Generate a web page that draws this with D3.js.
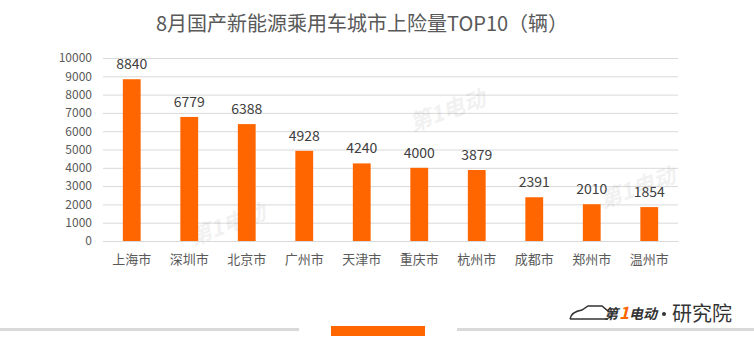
<!DOCTYPE html>
<html><head><meta charset="utf-8">
<script src="https://cdn.jsdelivr.net/npm/d3@7/dist/d3.min.js"></script>
<style>body{margin:0;background:#fff;}svg{display:block;font-family:"Noto Sans CJK SC","Microsoft YaHei",sans-serif;}</style>
</head><body>
<svg id="c" width="754" height="358"></svg>
<script>
const categories = ["上海市","深圳市","北京市","广州市","天津市","重庆市","杭州市","成都市","郑州市","温州市"];
const values = [8840,6779,6388,4928,4240,4000,3879,2391,2010,1854];
const yTicks = [0,1000,2000,3000,4000,5000,6000,7000,8000,9000,10000];
const title = "8月国产新能源乘用车城市上险量TOP10（辆）";

const svg = d3.select("#c");
const x = d3.scaleBand().domain(categories).range([103,678]).paddingInner(0.69).paddingOuter(0.345);
const y = d3.scaleLinear().domain([0,10000]).range([241,58]);

svg.append("text").attr("x",362).attr("y",31).attr("text-anchor","middle")
  .attr("font-size",20).attr("fill","#595959").text(title);

// gridlines
svg.append("g").selectAll("line").data(yTicks).join("line")
  .attr("x1",103).attr("x2",678).attr("y1",d=>y(d)+0.5).attr("y2",d=>y(d)+0.5)
  .attr("stroke","#d9d9d9").attr("stroke-width",1);

const yAxis = svg.append("g").attr("transform","translate(95,0)")
  .call(d3.axisLeft(y).tickValues(yTicks).tickSize(0).tickFormat(d3.format("d")));
yAxis.select(".domain").remove();
yAxis.selectAll("text").attr("font-size",12).attr("fill","#595959").attr("font-family","'Noto Sans CJK SC',sans-serif");

// watermarks
const wm = [[230,232],[450,118],[640,195]];
svg.append("g").selectAll("text").data(wm).join("text")
  .attr("x",d=>d[0]).attr("y",d=>d[1]).attr("text-anchor","middle")
  .attr("font-size",22).attr("font-style","italic").attr("font-weight","bold")
  .attr("fill","#000").attr("opacity",0.05)
  .attr("transform",d=>`rotate(-20,${d[0]},${d[1]})`).text("第1电动");

svg.append("g").selectAll("rect").data(values).join("rect")
  .attr("x",(d,i)=>x(categories[i])).attr("width",x.bandwidth())
  .attr("y",d=>y(d)).attr("height",d=>y(0)-y(d)).attr("fill","#ff6600");

svg.append("g").selectAll("text").data(values).join("text")
  .attr("x",(d,i)=>x(categories[i])+x.bandwidth()/2).attr("y",d=>y(d)-10)
  .attr("text-anchor","middle").attr("font-size",14).attr("fill","#404040").text(d=>d);

const xAxis = svg.append("g").attr("transform","translate(0,241)")
  .call(d3.axisBottom(x).tickSize(0).tickPadding(14));
xAxis.select(".domain").attr("stroke","#d9d9d9");
xAxis.selectAll("text").attr("font-size",13).attr("fill","#595959").attr("font-family","'Noto Sans CJK SC',sans-serif");

// bottom decoration
svg.append("rect").attr("x",0).attr("y",328).attr("width",299).attr("height",3).attr("fill","#d9d9d9");
svg.append("rect").attr("x",457).attr("y",328).attr("width",297).attr("height",3).attr("fill","#d9d9d9");
svg.append("rect").attr("x",331).attr("y",326).attr("width",94).attr("height",10).attr("fill","#ff6600");

// logo
const lg = svg.append("g").attr("transform","translate(568,303)");
lg.append("path").attr("d","M2,16 C3,10 8,8 14,7 L20,3 L34,3 L40,8 L44,9 M2,16 L40,16")
  .attr("fill","none").attr("stroke","#333").attr("stroke-width",1.5);
lg.append("text").attr("x",36).attr("y",16).attr("font-size",14).attr("font-style","italic")
  .attr("font-weight","bold").attr("fill","#333").text("第");
lg.append("text").attr("x",51).attr("y",16).attr("font-size",17).attr("font-style","italic")
  .attr("font-weight","bold").attr("fill","#ff6600").text("1");
lg.append("text").attr("x",61).attr("y",16).attr("font-size",14).attr("font-style","italic")
  .attr("font-weight","bold").attr("fill","#333").text("电动");
lg.append("circle").attr("cx",96).attr("cy",11).attr("r",2).attr("fill","#333");
lg.append("text").attr("x",104).attr("y",18).attr("font-size",20).attr("fill","#333").text("研究院");
</script>
</body></html>
